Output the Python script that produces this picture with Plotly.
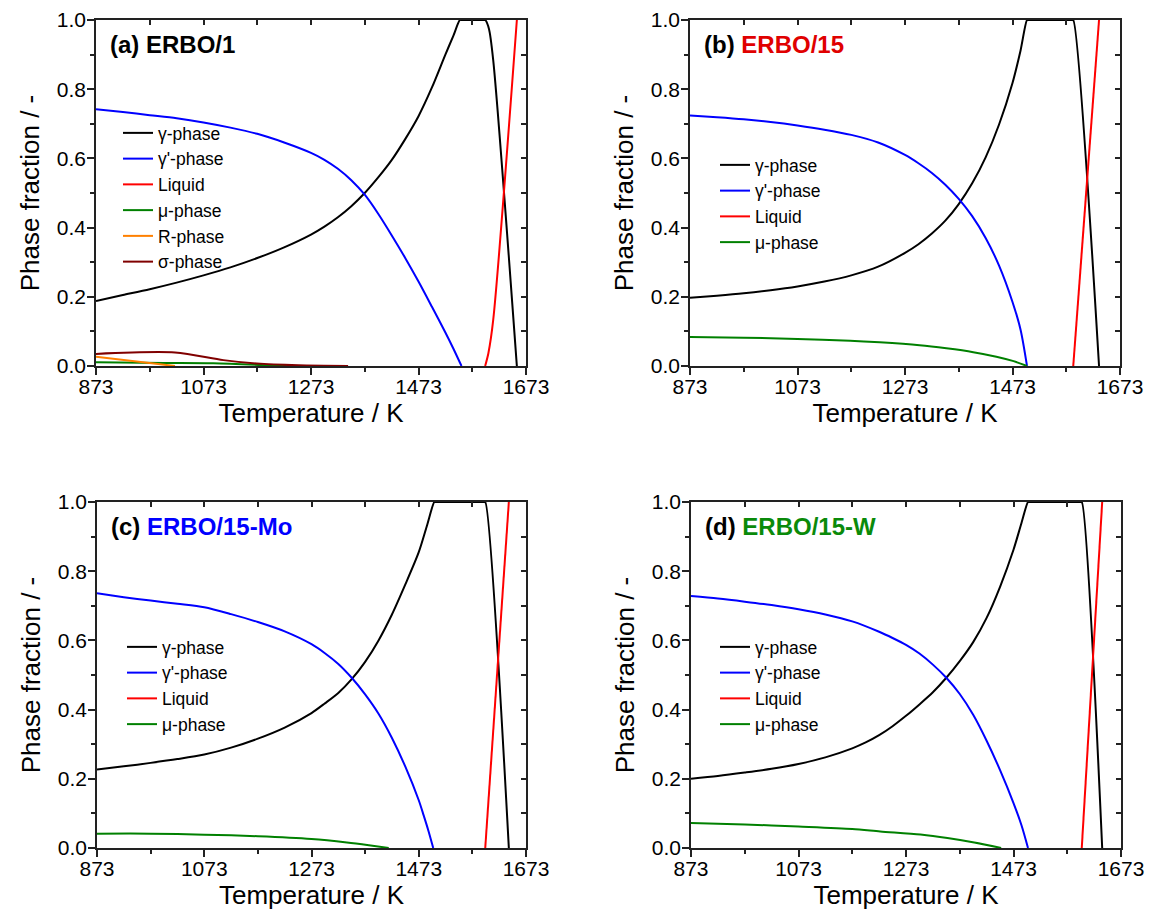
import plotly.graph_objects as go

# ---------------- data ----------------
# Panel (a) ERBO/1
A_T_GAMMA = [873, 923, 973, 1023, 1073, 1123, 1173, 1223, 1273, 1298, 1323, 1348, 1373, 1398, 1423, 1448, 1473, 1498,
             1523, 1538, 1550, 1553, 1594, 1597, 1604, 1612, 1656]
A_GAMMA = [0.188, 0.205, 0.222, 0.241, 0.262, 0.285, 0.312, 0.343, 0.380, 0.403, 0.430, 0.462, 0.500, 0.545, 0.595,
           0.655, 0.722, 0.805, 0.900, 0.955, 1.0, 1.0, 1.0, 1.0, 0.975, 0.884, 0.0]
A_T_GPRIME = [873, 923, 973, 1023, 1073, 1123, 1173, 1223, 1273, 1298, 1323, 1348, 1373, 1398, 1423, 1448, 1473, 1498,
              1523, 1538, 1553]
A_GPRIME = [0.742, 0.734, 0.725, 0.716, 0.704, 0.689, 0.671, 0.646, 0.616, 0.596, 0.570, 0.537, 0.495, 0.440, 0.378,
            0.313, 0.244, 0.171, 0.097, 0.05, 0.0]
A_T_LIQ = [1597, 1603, 1612, 1656]
A_LIQ = [0.0, 0.037, 0.133, 1.0]
A_T_MU = [873, 1000, 1091, 1228]
A_MU = [0.0106, 0.009, 0.008, 0.0]
A_T_R = [873, 1020]
A_R = [0.027, 0.0]
A_T_SIGMA = [873, 1020, 1110, 1172, 1250, 1342]
A_SIGMA = [0.035, 0.039, 0.017, 0.007, 0.002, 0.0]

# Panel (b) ERBO/15
B_T_GAMMA = [873, 923, 973, 1023, 1073, 1123, 1173, 1223, 1273, 1298, 1323, 1348, 1373, 1398, 1423, 1448, 1473, 1488,
             1500, 1502, 1584, 1586, 1634]
B_GAMMA = [0.197, 0.203, 0.21, 0.219, 0.23, 0.244, 0.262, 0.287, 0.327, 0.352, 0.383, 0.42, 0.468, 0.528, 0.603,
           0.698, 0.818, 0.912, 1.0, 1.0, 1.0, 1.0, 0.0]
B_T_GPRIME = [873, 923, 973, 1023, 1073, 1123, 1173, 1223, 1273, 1298, 1323, 1348, 1373, 1398, 1423, 1448, 1473, 1488, 1500]
B_GPRIME = [0.724, 0.719, 0.713, 0.705, 0.695, 0.683, 0.668, 0.646, 0.61, 0.586, 0.558, 0.524, 0.483, 0.433, 0.37,
            0.29, 0.185, 0.105, 0.0]
B_T_LIQ = [1586, 1634]
B_LIQ = [0.0, 1.0]
B_T_MU = [873, 973, 1073, 1171, 1226, 1300, 1350, 1400, 1443, 1475, 1500]
B_MU = [0.084, 0.082, 0.078, 0.073, 0.0685, 0.06, 0.051, 0.04, 0.027, 0.014, 0.0]

# Panel (c) ERBO/15-Mo
C_T_GAMMA = [873, 923, 973, 1023, 1073, 1123, 1173, 1223, 1273, 1298, 1323, 1348, 1373, 1398, 1423, 1448, 1473, 1488,
             1502, 1504, 1595, 1597, 1641]
C_GAMMA = [0.227, 0.236, 0.246, 0.257, 0.270, 0.290, 0.316, 0.348, 0.390, 0.418, 0.448, 0.488, 0.538, 0.600, 0.675,
           0.762, 0.855, 0.93, 1.0, 1.0, 1.0, 1.0, 0.0]
C_T_GPRIME = [873, 923, 973, 1023, 1073, 1123, 1173, 1223, 1273, 1298, 1323, 1348, 1373, 1398, 1423, 1448, 1473, 1482,
              1491, 1500]
C_GPRIME = [0.736, 0.725, 0.715, 0.706, 0.696, 0.676, 0.653, 0.626, 0.589, 0.563, 0.532, 0.492, 0.444, 0.388, 0.318,
            0.235, 0.138, 0.095, 0.05, 0.0]
C_T_LIQ = [1597, 1641]
C_LIQ = [0.0, 1.0]
C_T_MU = [873, 973, 1073, 1173, 1273, 1339, 1380, 1417]
C_MU = [0.0415, 0.0415, 0.0386, 0.034, 0.026, 0.016, 0.008, 0.0]

# Panel (d) ERBO/15-W
D_T_GAMMA = [873, 923, 973, 1023, 1073, 1123, 1173, 1198, 1223, 1248, 1273, 1298, 1323, 1348, 1373, 1398, 1423, 1448,
             1473, 1488, 1500, 1502, 1598, 1600, 1638]
D_GAMMA = [0.2, 0.208, 0.218, 0.229, 0.243, 0.262, 0.288, 0.305, 0.326, 0.352, 0.382, 0.415, 0.45, 0.492, 0.54, 0.595,
           0.665, 0.755, 0.862, 0.94, 1.0, 1.0, 1.0, 1.0, 0.0]
D_T_GPRIME = [873, 923, 973, 1023, 1073, 1123, 1173, 1223, 1248, 1273, 1298, 1323, 1348, 1373, 1398, 1423, 1448, 1473,
              1488, 1500]
D_GPRIME = [0.728, 0.721, 0.712, 0.702, 0.69, 0.675, 0.655, 0.625, 0.607, 0.587, 0.562, 0.53, 0.492, 0.445, 0.385,
            0.31, 0.225, 0.13, 0.065, 0.0]
D_T_LIQ = [1600, 1638]
D_LIQ = [0.0, 1.0]
D_T_MU = [873, 973, 1073, 1173, 1225, 1300, 1350, 1400, 1450]
D_MU = [0.072, 0.068, 0.062, 0.055, 0.048, 0.039, 0.029, 0.016, 0.0]

PHASE_NAMES = ["γ-phase", "γ'-phase", "Liquid", "μ-phase", "R-phase", "σ-phase"]
PHASE_COLORS = ["#000000", "#0000ff", "#ff0000", "#008000", "#ff8000", "#800000"]
PANEL_LABELS = ["(a) ", "(b) ", "(c) ", "(d) "]
ALLOY_NAMES = ["ERBO/1", "ERBO/15", "ERBO/15-Mo", "ERBO/15-W"]
ALLOY_COLORS = ["#000000", "#e00000", "#0000ff", "#0a8a0a"]
X_TICK0, X_MAX = 873, 1673

panels = [
    [(A_T_GAMMA, A_GAMMA), (A_T_GPRIME, A_GPRIME), (A_T_LIQ, A_LIQ), (A_T_MU, A_MU), (A_T_R, A_R), (A_T_SIGMA, A_SIGMA)],
    [(B_T_GAMMA, B_GAMMA), (B_T_GPRIME, B_GPRIME), (B_T_LIQ, B_LIQ), (B_T_MU, B_MU)],
    [(C_T_GAMMA, C_GAMMA), (C_T_GPRIME, C_GPRIME), (C_T_LIQ, C_LIQ), (C_T_MU, C_MU)],
    [(D_T_GAMMA, D_GAMMA), (D_T_GPRIME, D_GPRIME), (D_T_LIQ, D_LIQ), (D_T_MU, D_MU)],
]

# ---------------- layout geometry ----------------
W, H = 1151, 923
FONT = "Arial, Liberation Sans, sans-serif"
AXC = "#222222"
# plot areas in pixels: (left, right, top, bottom)
boxes = [(96, 526, 20, 366), (690, 1120, 20, 366), (97, 526, 502, 848), (691, 1121, 502, 848)]
legend_pos = [(118, 115), (715, 147), (122, 629), (715, 629)]

fig = go.Figure()
layout = dict(
    width=W, height=H, margin=dict(l=0, r=0, t=0, b=0, autoexpand=False),
    paper_bgcolor="white", plot_bgcolor="white",
    font=dict(family=FONT, color="#000000"),
    annotations=[],
)

for i, series in enumerate(panels):
    n = i + 1
    xa = "x" if n == 1 else f"x{n}"
    ya = "y" if n == 1 else f"y{n}"
    leg = "legend" if n == 1 else f"legend{n}"
    for k, (tx, vy) in enumerate(series):
        fig.add_trace(go.Scatter(
            x=tx, y=vy, mode="lines", name=PHASE_NAMES[k],
            line=dict(color=PHASE_COLORS[k], width=2, shape="spline", smoothing=0.8),
            xaxis=xa, yaxis=ya, legend=leg, cliponaxis=False,
            hoverinfo="skip",
        ))
    # helper (empty) traces so the mirrored inside-tick axes render
    fig.add_trace(go.Scatter(x=[], y=[], xaxis=f"x{n+4}", yaxis=ya, showlegend=False, hoverinfo="skip"))
    fig.add_trace(go.Scatter(x=[], y=[], xaxis=xa, yaxis=f"y{n+4}", showlegend=False, hoverinfo="skip"))

    l, r, t, b = boxes[i]
    xdom = [l / W, r / W]
    ydom = [1 - b / H, 1 - t / H]
    axline = dict(showline=True, linecolor=AXC, linewidth=1.5, showgrid=False, zeroline=False, automargin=False)
    layout[f"xaxis{n}"] = dict(
        domain=xdom, anchor=ya, range=[X_TICK0, X_MAX], tick0=X_TICK0, dtick=200,
        ticks="outside", ticklen=7, tickwidth=1.5, tickcolor=AXC, ticklabelstandoff=-6,
        minor=dict(ticks="outside", ticklen=4, tickwidth=1.5, dtick=100, tick0=X_TICK0, tickcolor=AXC),
        mirror=True, tickfont=dict(size=21, family=FONT),
        title=dict(text="Temperature / K", font=dict(size=26, family=FONT), standoff=0),
        **axline,
    )
    layout[f"yaxis{n}"] = dict(
        domain=ydom, anchor=xa, range=[0, 1], tick0=0, dtick=0.2, tickformat=".1f",
        ticks="outside", ticklen=7, tickwidth=1.5, tickcolor=AXC, ticklabelstandoff=-3,
        minor=dict(ticks="outside", ticklen=4, tickwidth=1.5, dtick=0.1, tickcolor=AXC),
        mirror=True, tickfont=dict(size=21, family=FONT),
        title=dict(text="Phase fraction / -", font=dict(size=26, family=FONT), standoff=10),
        **axline,
    )
    layout[f"xaxis{n+4}"] = dict(
        overlaying=xa, anchor=ya, side="top", range=[X_TICK0, X_MAX], tick0=X_TICK0, dtick=100,
        ticks="inside", ticklen=5, tickwidth=1.5, tickcolor=AXC, showticklabels=False,
        showline=False, showgrid=False, zeroline=False, automargin=False,
    )
    layout[f"yaxis{n+4}"] = dict(
        overlaying=ya, anchor=xa, side="right", range=[0, 1], tick0=0, dtick=0.1,
        ticks="inside", ticklen=5, tickwidth=1.5, tickcolor=AXC, showticklabels=False,
        showline=False, showgrid=False, zeroline=False, automargin=False,
    )
    lx, ly = legend_pos[i]
    layout[leg] = dict(
        x=lx / W, y=1 - ly / H, xanchor="left", yanchor="top",
        bgcolor="rgba(0,0,0,0)", borderwidth=0,
        font=dict(size=17.5, family=FONT, color="#000000"), tracegroupgap=0,
    )
    layout["annotations"].append(dict(
        xref=f"{xa} domain", yref=f"{ya} domain", x=0.028, y=0.928,
        xanchor="left", yanchor="middle", showarrow=False,
        text=f"<b>{PANEL_LABELS[i]}<span style='color:{ALLOY_COLORS[i]}'>{ALLOY_NAMES[i]}</span></b>",
        font=dict(size=24, family=FONT, color="#000000"),
    ))

fig.update_layout(**layout)
fig.write_html("out.html")
